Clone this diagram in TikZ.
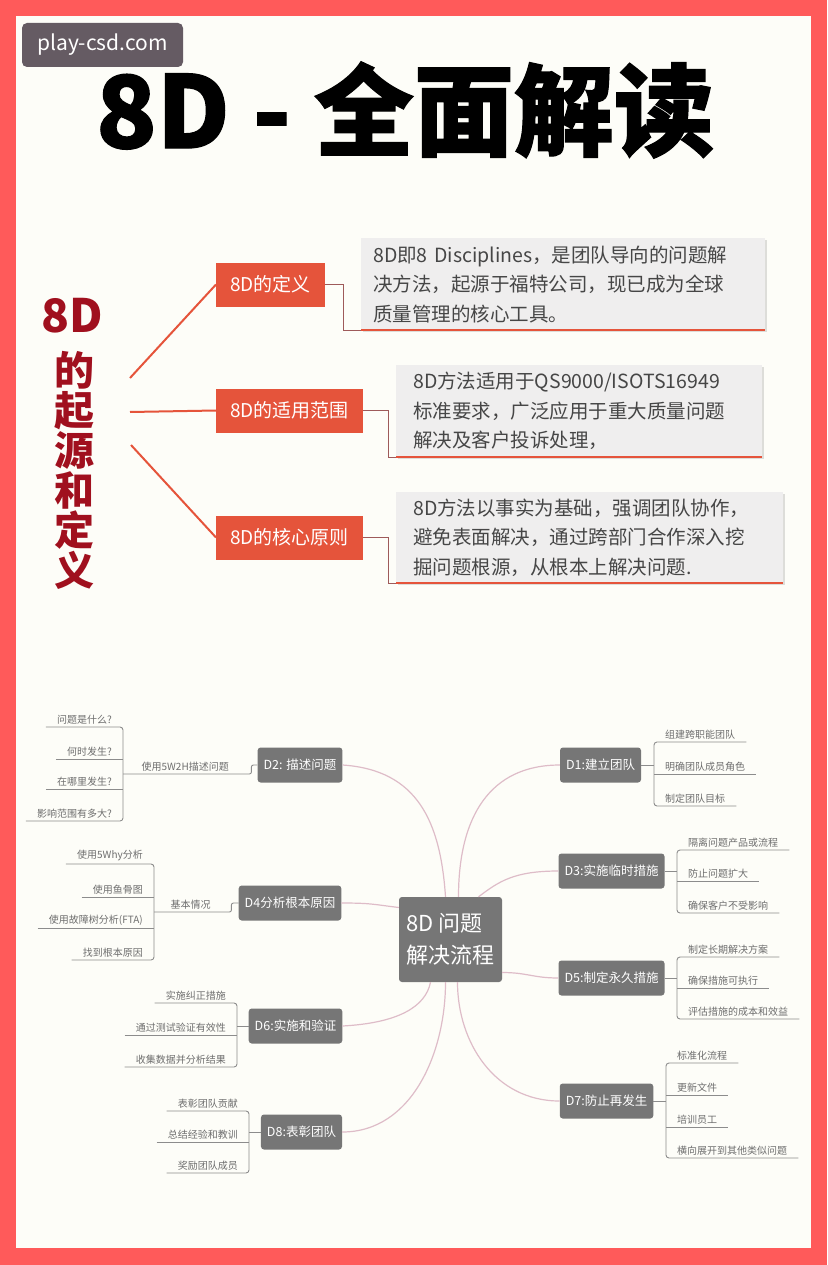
\documentclass[tikz,border=0pt]{standalone}
\usepackage{fontspec}
\usepackage{xcolor}
\usepackage{tikz}
\usetikzlibrary{shadows}
\setmainfont{Noto Sans CJK SC}
\newfontfamily\heavyfont{Noto Sans CJK SC}[BoldFeatures={FakeBold=1.2}]
\definecolor{frame}{RGB}{255, 90, 90}
\definecolor{paper}{RGB}{253, 253, 248}
\definecolor{accent}{RGB}{229, 84, 59}
\definecolor{darkred}{RGB}{160, 16, 30}
\definecolor{panel}{RGB}{239, 238, 238}
\definecolor{bodytext}{RGB}{70, 70, 70}
\definecolor{boxgray}{RGB}{118, 118, 118}
\definecolor{leafgray}{RGB}{110, 110, 110}
\definecolor{twiggray}{RGB}{140, 140, 140}
\definecolor{branchpink}{RGB}{222, 188, 200}
\definecolor{linkred}{RGB}{158, 90, 90}
\definecolor{wmark}{RGB}{101, 91, 99}

\begin{document}
\begin{tikzpicture}[x=1pt, y=-1pt,
    obox/.style={fill=accent, text=white, font=\fontsize{19}{22}\selectfont, inner xsep=14pt, minimum height=44pt, anchor=west},
    gbox/.style={fill=panel, text=bodytext, font=\fontsize{19.5}{29.5}\selectfont, align=left, anchor=north west, inner xsep=12pt,
        drop shadow={shadow xshift=1.5pt, shadow yshift=-1.5pt, opacity=.25}},
    redline/.style={accent, line width=2pt},
    link/.style={linkred, line width=1pt},
    dbox/.style={fill=boxgray, text=white, rounded corners=3pt, font=\fontsize{12.5}{15}\selectfont, inner xsep=6pt, minimum height=35pt},
    leafL/.style={anchor=south east, text=leafgray, font=\fontsize{10}{12}\selectfont, inner xsep=11pt, inner ysep=2.5pt},
    leafR/.style={anchor=south west, text=leafgray, font=\fontsize{10}{12}\selectfont, inner xsep=11pt, inner ysep=2.5pt},
    twig/.style={twiggray, line width=0.9pt, rounded corners=3pt},
    branch/.style={branchpink, line width=1.2pt}]

% Frame
\useasboundingbox (0,0) rectangle (827,1265);
\fill[frame] (0,0) rectangle (827,1265);
\fill[paper] (16,16) rectangle (811,1248);

% Watermark and title
\node[fill=wmark, text=white, rounded corners=5pt, minimum width=161pt, minimum height=44pt, font=\fontsize{21}{24}\selectfont] (wm) at (102.5,45) {play-csd.com};
\node[font=\fontsize{100}{100}\selectfont\heavyfont\bfseries] (ttl) at (405,110) {8D - 全面解读};

% Vertical heading
\node[text=darkred, font=\fontsize{46}{46}\selectfont\bfseries] (vt8) at (72,316) {8D};
\node[text=darkred, align=center, font=\fontsize{40}{40}\selectfont\bfseries] (vtc) at (74,470) {的\\起\\源\\和\\定\\义};
\coordinate (s1) at (130,378);
\coordinate (s2) at (130,412);
\coordinate (s3) at (131,445);

% Definition
\node[obox] (o1) at (216,284.5) {8D的定义};
\node[gbox, text width=380pt, minimum height=92pt] (g1) at (361,238) {8D即8 Disciplines，是团队导向的问题解\\决方法，起源于福特公司，现已成为全球\\质量管理的核心工具。};

% Scope
\node[obox] (o2) at (216,410.5) {8D的适用范围};
\node[gbox, inner xsep=17pt, text width=332pt, minimum height=92pt] (g2) at (396,365) {8D方法适用于QS9000/ISOTS16949\\标准要求，广泛应用于重大质量问题\\解决及客户投诉处理，};

% Core principle
\node[obox] (o3) at (216,537.5) {8D的核心原则};
\node[gbox, inner xsep=17pt, text width=353pt, minimum height=91pt] (g3) at (396,492) {8D方法以事实为基础，强调团队协作，\\避免表面解决，通过跨部门合作深入挖\\掘问题根源，从根本上解决问题.};

\draw[redline] (s1) -- (o1.west);
\draw[redline] (s2) -- (o2.west);
\draw[redline] (s3) -- (o3.west);
\draw[link] (o1.east) -| ([xshift=-18]g1.south west) -- (g1.south west);
\draw[link] (o2.east) -| ([xshift=-8]g2.south west) -- (g2.south west);
\draw[link] (o3.east) -| ([xshift=-8]g3.south west) -- (g3.south west);
\draw[redline] (g1.south west) -- (g1.south east);
\draw[redline] (g2.south west) -- (g2.south east);
\draw[redline] (g3.south west) -- (g3.south east);

% Mind map centre
\node[fill=boxgray, text=white, rounded corners=3pt, minimum width=103pt, minimum height=85pt, align=left, font=\fontsize{22}{32}\selectfont] (ctr) at (450.5,939.5) {8D 问题\\解决流程};

% D1
\node[dbox] (d1) at (600.5,765) {D1:建立团队};
\foreach \t/\y [count=\i] in {组建跨职能团队/742, 明确团队成员角色/774, 制定团队目标/806}
    \node[leafR] (d1l\i) at (654,\y) {\t};
\draw[twig] (d1l1.south east) -- (d1l1.south west) -- (d1l3.south west) -- (d1l3.south east);
\draw[twig] (d1l2.south west) -- (d1l2.south east);
\draw[twig] (d1.east) -- (d1.east -| d1l1.south west);

% D2
\node[dbox] (d2) at (300,765) {D2: 描述问题};
\node[leafR, minimum width=124pt] (d2m) at (123,774) {使用5W2H描述问题};
\foreach \t/\y [count=\i] in {问题是什么?/727, 何时发生?/759, 在哪里发生?/789, 影响范围有多大?/821}
    \node[leafL] (d2l\i) at (123,\y) {\t};
\draw[twig] (d2l1.south west) -- (d2l1.south east) -- (d2l4.south east) -- (d2l4.south west);
\foreach \i in {2,3}
    \draw[twig] (d2l\i.south west) -- (d2l\i.south east);
\draw[twig, rounded corners=2pt] (d2m.south west) -- (d2m.south east) -- ++(4,0) |- (d2.west);

% D3
\node[dbox] (d3) at (611.5,871) {D3:实施临时措施};
\foreach \t/\y [count=\i] in {隔离问题产品或流程/850, 防止问题扩大/881, 确保客户不受影响/913}
    \node[leafR] (d3l\i) at (677,\y) {\t};
\draw[twig] (d3l1.south east) -- (d3l1.south west) -- (d3l3.south west) -- (d3l3.south east);
\draw[twig] (d3l2.south west) -- (d3l2.south east);
\draw[twig] (d3.east) -- (d3.east -| d3l1.south west);

% D4
\node[dbox] (d4) at (290,903) {D4分析根本原因};
\node[leafR, minimum width=73pt] (d4m) at (154,912) {基本情况};
\foreach \t/\y [count=\i] in {使用5Why分析/864, 使用鱼骨图/897, 使用故障树分析(FTA)/928, 找到根本原因/960}
    \node[leafL] (d4l\i) at (154,\y) {\t};
\draw[twig] (d4l1.south west) -- (d4l1.south east) -- (d4l4.south east) -- (d4l4.south west);
\foreach \i in {2,3}
    \draw[twig] (d4l\i.south west) -- (d4l\i.south east);
\draw[twig, rounded corners=2pt] (d4m.south west) -- (d4m.south east) -- ++(4,0) |- (d4.west);

% D5
\node[dbox] (d5) at (611.5,978) {D5:制定永久措施};
\foreach \t/\y [count=\i] in {制定长期解决方案/957, 确保措施可执行/988, 评估措施的成本和效益/1019}
    \node[leafR] (d5l\i) at (677,\y) {\t};
\draw[twig] (d5l1.south east) -- (d5l1.south west) -- (d5l3.south west) -- (d5l3.south east);
\draw[twig] (d5l2.south west) -- (d5l2.south east);
\draw[twig] (d5.east) -- (d5.east -| d5l1.south west);

% D6
\node[dbox] (d6) at (295.5,1026) {D6:实施和验证};
\foreach \t/\y [count=\i] in {实施纠正措施/1003, 通过测试验证有效性/1035, 收集数据并分析结果/1067}
    \node[leafL] (d6l\i) at (237,\y) {\t};
\draw[twig] (d6l1.south west) -- (d6l1.south east) -- (d6l3.south east) -- (d6l3.south west);
\draw[twig] (d6l2.south west) -- (d6l2.south east);
\draw[twig] (d6.west) -- (d6.west -| d6l1.south east);

% D7
\node[dbox] (d7) at (606.5,1101) {D7:防止再发生};
\foreach \t/\y [count=\i] in {标准化流程/1063, 更新文件/1095, 培训员工/1127, 横向展开到其他类似问题/1158}
    \node[leafR] (d7l\i) at (666,\y) {\t};
\draw[twig] (d7l1.south east) -- (d7l1.south west) -- (d7l4.south west) -- (d7l4.south east);
\foreach \i in {2,3}
    \draw[twig] (d7l\i.south west) -- (d7l\i.south east);
\draw[twig] (d7.east) -- (d7.east -| d7l1.south west);

% D8
\node[dbox] (d8) at (301.5,1132) {D8:表彰团队};
\foreach \t/\y [count=\i] in {表彰团队贡献/1111, 总结经验和教训/1142, 奖励团队成员/1173}
    \node[leafL] (d8l\i) at (249,\y) {\t};
\draw[twig] (d8l1.south west) -- (d8l1.south east) -- (d8l3.south east) -- (d8l3.south west);
\draw[twig] (d8l2.south west) -- (d8l2.south east);
\draw[twig] (d8.west) -- (d8.west -| d8l1.south east);

% Branches from the centre
\draw[branch] (d2.east) .. controls +(75,5) and +(-5,-75) .. ([xshift=-5]ctr.north);
\draw[branch] (d1.west) .. controls +(-70,0) and +(0,-80) .. ([xshift=8]ctr.north);
\draw[branch] (d3.west) .. controls +(-45,0) and +(20,-15) .. ([xshift=28]ctr.north);
\draw[branch] (d4.east) .. controls +(30,0) and +(-25,-3) .. ([yshift=32]ctr.west);
\draw[branch] ([yshift=-33]ctr.east) .. controls +(25,0) and +(-25,0) .. (d5.west);
\draw[branch] (d6.east) .. controls +(55,-3) and +(-5,25) .. ([xshift=-20]ctr.south);
\draw[branch] (d7.west) .. controls +(-65,0) and +(0,60) .. ([xshift=7]ctr.south);
\draw[branch] (d8.east) .. controls +(70,0) and +(0,70) .. ([xshift=-5]ctr.south);
\end{tikzpicture}
\end{document}
